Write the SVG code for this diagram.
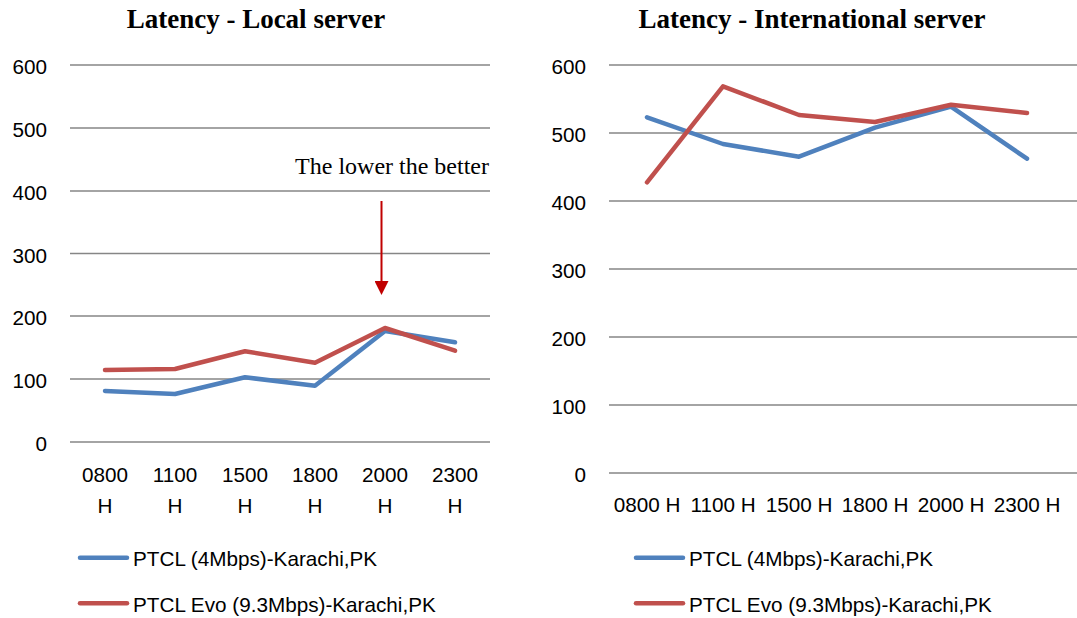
<svg xmlns="http://www.w3.org/2000/svg" width="1077" height="618" viewBox="0 0 1077 618">
<style>
.title{font-family:"Liberation Serif","Times New Roman",serif;font-weight:bold;font-size:27px;fill:#000;text-anchor:middle}
.lab{font-family:"Liberation Sans",Arial,sans-serif;font-size:20.7px;fill:#000}
.ylab{text-anchor:end}
.xlab{text-anchor:middle}
.grid{stroke:#868686;stroke-width:1.6;fill:none}
.s1{stroke:#4F81BD;stroke-width:4.5;fill:none;stroke-linejoin:round;stroke-linecap:round}
.s2{stroke:#C0504D;stroke-width:4.5;fill:none;stroke-linejoin:round;stroke-linecap:round}
.note{font-family:"Liberation Serif","Times New Roman",serif;font-size:24px;fill:#000;text-anchor:end}
</style>
<defs>
<marker id="ah" markerWidth="14" markerHeight="14" refX="0" refY="7" orient="auto" markerUnits="userSpaceOnUse" viewBox="0 0 14 14">
<path d="M0,0 L14,7 L0,14 Z" fill="#C00000"/>
</marker>
</defs>
<rect width="1077" height="618" fill="#fff"/>

<g id="chart-local">
<text class="title" x="256" y="28">Latency - Local server</text>
<g class="gridlines">
<line class="grid" x1="70" y1="65" x2="490" y2="65"/>
<line class="grid" x1="70" y1="128" x2="490" y2="128"/>
<line class="grid" x1="70" y1="191" x2="490" y2="191"/>
<line class="grid" x1="70" y1="253.5" x2="490" y2="253.5"/>
<line class="grid" x1="70" y1="316" x2="490" y2="316"/>
<line class="grid" x1="70" y1="379" x2="490" y2="379"/>
<line class="grid" x1="70" y1="442" x2="490" y2="442"/>
</g>
<g class="lab ylab">
<text x="47" y="74">600</text>
<text x="47" y="137">500</text>
<text x="47" y="200">400</text>
<text x="47" y="262.5">300</text>
<text x="47" y="325">200</text>
<text x="47" y="388">100</text>
<text x="47" y="451">0</text>
</g>
<g class="lab xlab">
<text x="105" y="482">0800</text><text x="105" y="513">H</text>
<text x="175" y="482">1100</text><text x="175" y="513">H</text>
<text x="245" y="482">1500</text><text x="245" y="513">H</text>
<text x="315" y="482">1800</text><text x="315" y="513">H</text>
<text x="385" y="482">2000</text><text x="385" y="513">H</text>
<text x="455" y="482">2300</text><text x="455" y="513">H</text>
</g>
<polyline class="s1" points="105,391 175,394 245,377.3 315,385.7 385,331 455,342.3"/>
<polyline class="s2" points="105,370 175,369 245,351.3 315,362.7 385,328 455,350.7"/>
<text class="note" x="489" y="174">The lower the better</text>
<line x1="381.5" y1="201" x2="381.5" y2="281" stroke="#C00000" stroke-width="2" marker-end="url(#ah)"/>
<line class="s1" x1="80" y1="557.7" x2="127" y2="557.7"/>
<text class="lab" x="133" y="566">PTCL (4Mbps)-Karachi,PK</text>
<line class="s2" x1="80" y1="603.3" x2="127" y2="603.3"/>
<text class="lab" x="133" y="611.5">PTCL Evo (9.3Mbps)-Karachi,PK</text>
</g>

<g id="chart-international">
<text class="title" x="812" y="28">Latency - International server</text>
<g class="gridlines">
<line class="grid" x1="609" y1="65" x2="1077" y2="65"/>
<line class="grid" x1="609" y1="133" x2="1077" y2="133"/>
<line class="grid" x1="609" y1="201" x2="1077" y2="201"/>
<line class="grid" x1="609" y1="269" x2="1077" y2="269"/>
<line class="grid" x1="609" y1="337" x2="1077" y2="337"/>
<line class="grid" x1="609" y1="405" x2="1077" y2="405"/>
<line class="grid" x1="609" y1="473" x2="1077" y2="473"/>
</g>
<g class="lab ylab">
<text x="586" y="74">600</text>
<text x="586" y="142">500</text>
<text x="586" y="210">400</text>
<text x="586" y="278">300</text>
<text x="586" y="346">200</text>
<text x="586" y="414">100</text>
<text x="586" y="482">0</text>
</g>
<g class="lab xlab">
<text x="647" y="512">0800 H</text>
<text x="723" y="512">1100 H</text>
<text x="799" y="512">1500 H</text>
<text x="875" y="512">1800 H</text>
<text x="951" y="512">2000 H</text>
<text x="1027" y="512">2300 H</text>
</g>
<polyline class="s1" points="647,117.3 723,144 799,156.7 875,127.7 951,106.7 1027,158.7"/>
<polyline class="s2" points="647,182.3 723,86.3 799,115 875,122 951,104.7 1027,113"/>
<line class="s1" x1="636" y1="557.7" x2="683" y2="557.7"/>
<text class="lab" x="689" y="566">PTCL (4Mbps)-Karachi,PK</text>
<line class="s2" x1="636" y1="603.3" x2="683" y2="603.3"/>
<text class="lab" x="689" y="611.5">PTCL Evo (9.3Mbps)-Karachi,PK</text>
</g>
</svg>
